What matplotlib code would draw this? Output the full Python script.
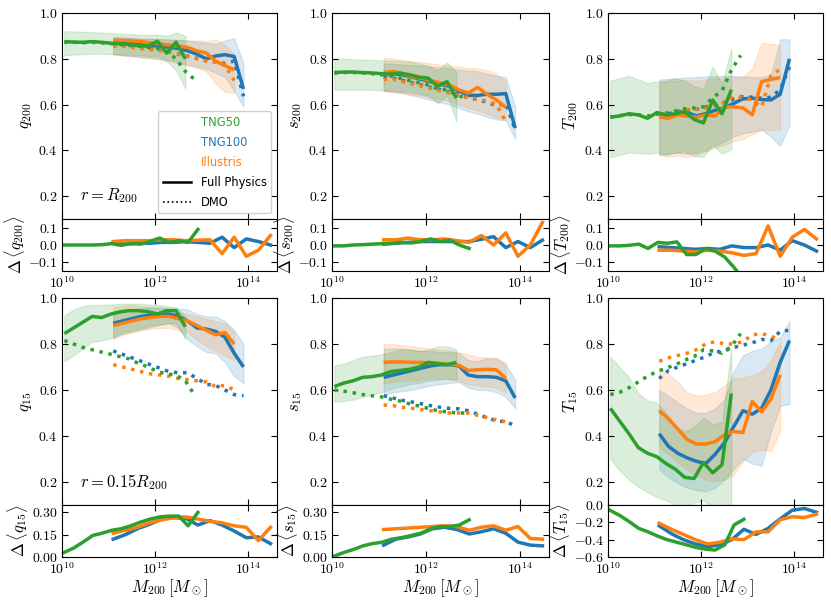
import numpy as np
import matplotlib
matplotlib.use('Agg')
import matplotlib.pyplot as plt
from matplotlib.lines import Line2D
from matplotlib.ticker import FixedLocator, NullLocator, FixedFormatter

plt.rcParams['font.family'] = 'serif'
plt.rcParams['font.serif'] = ['cmr10']
plt.rcParams['mathtext.fontset'] = 'cm'
plt.rcParams['axes.formatter.use_mathtext'] = True

# log10 halo mass grids
logm_tng50 = [10.05, 10.25, 10.45, 10.65, 10.85, 11.05, 11.25, 11.45, 11.65, 11.85, 12.05, 12.25, 12.45, 12.65]
logm_tng50_dmo = logm_tng50 + [12.85]
logm_tng100 = [11.1, 11.3, 11.5, 11.7, 11.9, 12.1, 12.3, 12.5, 12.7, 12.9, 13.1, 13.3, 13.5, 13.7, 13.9]
logm_ill = [11.1, 11.3, 11.5, 11.7, 11.9, 12.1, 12.3, 12.5, 12.7, 12.9, 13.1, 13.3, 13.5, 13.7]
logm_res50 = [10.04, 10.25, 10.45, 10.66, 10.86, 11.07, 11.27, 11.48, 11.69, 11.89, 12.10, 12.30, 12.51, 12.71, 12.92]
logm_res = [11.10, 11.36, 11.62, 11.88, 12.14, 12.40, 12.66, 12.92, 13.18, 13.44, 13.70, 13.96, 14.22, 14.48]

# ---- q200 ----
q200_tng50 = [0.875, 0.873, 0.872, 0.875, 0.872, 0.868, 0.866, 0.862, 0.857, 0.855, 0.877, 0.825, 0.872, 0.800]
q200_tng50_dmo = [0.872, 0.872, 0.870, 0.872, 0.870, 0.866, 0.862, 0.858, 0.855, 0.850, 0.845, 0.830, 0.800, 0.745, 0.710]
q200_tng50_lo = [0.815, 0.818, 0.820, 0.822, 0.822, 0.820, 0.820, 0.818, 0.815, 0.812, 0.810, 0.790, 0.750, 0.670]
q200_tng50_hi = [0.920, 0.920, 0.918, 0.916, 0.915, 0.912, 0.910, 0.908, 0.905, 0.905, 0.905, 0.900, 0.915, 0.900]
q200_tng100 = [0.870, 0.870, 0.866, 0.862, 0.858, 0.855, 0.850, 0.845, 0.835, 0.820, 0.800, 0.812, 0.818, 0.810, 0.668]
q200_tng100_dmo = [0.858, 0.858, 0.853, 0.848, 0.843, 0.838, 0.830, 0.820, 0.812, 0.802, 0.792, 0.786, 0.780, 0.790, 0.636]
q200_tng100_lo = [0.820, 0.815, 0.812, 0.808, 0.805, 0.800, 0.795, 0.785, 0.775, 0.765, 0.755, 0.740, 0.720, 0.660, 0.590]
q200_tng100_hi = [0.895, 0.893, 0.890, 0.888, 0.887, 0.885, 0.885, 0.882, 0.880, 0.875, 0.870, 0.865, 0.880, 0.890, 0.780]
q200_ill = [0.880, 0.880, 0.878, 0.875, 0.870, 0.865, 0.860, 0.855, 0.850, 0.835, 0.825, 0.790, 0.770, 0.752]
q200_ill_dmo = [0.855, 0.855, 0.850, 0.845, 0.840, 0.835, 0.830, 0.820, 0.810, 0.800, 0.790, 0.785, 0.775, 0.705]
q200_ill_lo = [0.820, 0.815, 0.810, 0.805, 0.800, 0.795, 0.790, 0.780, 0.770, 0.760, 0.745, 0.690, 0.655, 0.650]
q200_ill_hi = [0.895, 0.893, 0.890, 0.888, 0.887, 0.885, 0.884, 0.882, 0.880, 0.880, 0.878, 0.885, 0.860, 0.820]
dq200_tng50 = [0.0, 0.0, 0.0, 0.0, 0.002, 0.008, -0.002, 0.008, 0.005, 0.02, 0.04, 0.015, 0.025, 0.015, 0.09]
dq200_tng100 = [0.01, 0.005, 0.01, 0.01, 0.015, 0.015, 0.02, 0.015, 0.01, 0.045, -0.015, 0.035, 0.02, 0.0]
dq200_ill = [0.02, 0.025, 0.025, 0.025, 0.03, 0.03, 0.025, 0.028, 0.03, -0.05, 0.045, -0.065, -0.03, 0.055]

# ---- s200 ----
s200_tng50 = [0.740, 0.742, 0.742, 0.740, 0.738, 0.735, 0.733, 0.738, 0.730, 0.720, 0.715, 0.680, 0.700, 0.628]
s200_tng50_dmo = [0.738, 0.740, 0.740, 0.738, 0.735, 0.730, 0.725, 0.715, 0.705, 0.695, 0.685, 0.668, 0.665, 0.640, 0.630]
s200_tng50_lo = [0.665, 0.665, 0.665, 0.665, 0.664, 0.662, 0.660, 0.658, 0.655, 0.648, 0.640, 0.605, 0.640, 0.525]
s200_tng50_hi = [0.800, 0.800, 0.798, 0.796, 0.795, 0.793, 0.792, 0.790, 0.788, 0.780, 0.770, 0.750, 0.785, 0.740]
s200_tng100 = [0.735, 0.735, 0.730, 0.720, 0.710, 0.700, 0.690, 0.680, 0.660, 0.640, 0.640, 0.645, 0.645, 0.648, 0.497]
s200_tng100_dmo = [0.720, 0.715, 0.705, 0.695, 0.685, 0.675, 0.665, 0.655, 0.645, 0.630, 0.622, 0.610, 0.595, 0.605, 0.490]
s200_tng100_lo = [0.660, 0.655, 0.650, 0.640, 0.630, 0.620, 0.610, 0.600, 0.585, 0.570, 0.560, 0.545, 0.535, 0.530, 0.450]
s200_tng100_hi = [0.780, 0.778, 0.775, 0.772, 0.770, 0.766, 0.762, 0.758, 0.752, 0.748, 0.745, 0.735, 0.725, 0.720, 0.590]
s200_ill = [0.740, 0.745, 0.735, 0.722, 0.715, 0.705, 0.695, 0.685, 0.665, 0.650, 0.675, 0.645, 0.620, 0.588]
s200_ill_dmo = [0.710, 0.710, 0.700, 0.690, 0.680, 0.670, 0.660, 0.650, 0.640, 0.630, 0.625, 0.615, 0.600, 0.525]
s200_ill_lo = [0.660, 0.655, 0.650, 0.645, 0.640, 0.630, 0.625, 0.615, 0.600, 0.585, 0.575, 0.560, 0.545, 0.535]
s200_ill_hi = [0.805, 0.800, 0.795, 0.790, 0.785, 0.780, 0.775, 0.770, 0.765, 0.760, 0.758, 0.750, 0.735, 0.700]
ds200_tng50 = [-0.005, -0.005, 0.0, 0.002, 0.005, 0.008, 0.01, 0.015, 0.012, 0.02, 0.035, 0.02, 0.028, 0.0, -0.02]
ds200_tng100 = [0.005, 0.01, 0.015, 0.02, 0.02, 0.02, 0.02, 0.02, 0.033, 0.048, -0.015, 0.02, -0.015, 0.028]
ds200_ill = [0.03, 0.03, 0.04, 0.03, 0.03, 0.035, 0.025, 0.015, 0.055, 0.0, 0.07, -0.065, 0.0, 0.13]

# ---- T200 ----
T200_tng50 = [0.545, 0.550, 0.560, 0.555, 0.540, 0.565, 0.555, 0.560, 0.570, 0.535, 0.520, 0.620, 0.560, 0.665]
T200_tng50_dmo = [0.545, 0.552, 0.556, 0.555, 0.550, 0.558, 0.562, 0.572, 0.582, 0.585, 0.590, 0.630, 0.660, 0.750, 0.815]
T200_tng50_lo = [0.370, 0.380, 0.390, 0.388, 0.385, 0.390, 0.380, 0.390, 0.395, 0.375, 0.372, 0.425, 0.385, 0.405]
T200_tng50_hi = [0.705, 0.715, 0.725, 0.710, 0.695, 0.700, 0.705, 0.715, 0.705, 0.680, 0.670, 0.765, 0.690, 0.845]
T200_tng100 = [0.555, 0.545, 0.560, 0.565, 0.550, 0.560, 0.575, 0.585, 0.605, 0.625, 0.628, 0.622, 0.620, 0.645, 0.800]
T200_tng100_dmo = [0.560, 0.560, 0.570, 0.575, 0.580, 0.590, 0.600, 0.610, 0.625, 0.635, 0.632, 0.628, 0.632, 0.665, 0.765]
T200_tng100_lo = [0.380, 0.385, 0.390, 0.385, 0.390, 0.400, 0.420, 0.440, 0.460, 0.475, 0.482, 0.490, 0.460, 0.420, 0.510]
T200_tng100_hi = [0.710, 0.712, 0.715, 0.718, 0.720, 0.722, 0.724, 0.725, 0.725, 0.722, 0.720, 0.720, 0.730, 0.885, 0.885]
T200_ill = [0.545, 0.540, 0.555, 0.550, 0.545, 0.555, 0.550, 0.590, 0.590, 0.585, 0.555, 0.700, 0.710, 0.718]
T200_ill_dmo = [0.550, 0.552, 0.565, 0.578, 0.580, 0.585, 0.595, 0.610, 0.635, 0.630, 0.620, 0.590, 0.725, 0.755]
T200_ill_lo = [0.380, 0.372, 0.378, 0.370, 0.380, 0.395, 0.410, 0.425, 0.440, 0.450, 0.470, 0.490, 0.490, 0.490]
T200_ill_hi = [0.700, 0.702, 0.705, 0.708, 0.705, 0.710, 0.715, 0.718, 0.720, 0.720, 0.760, 0.870, 0.865, 0.860]
dT200_tng50 = [-0.005, -0.005, -0.002, 0.005, -0.02, 0.015, 0.01, 0.018, -0.055, -0.055, -0.02, -0.035, -0.07, -0.13, -0.2]
dT200_tng100 = [-0.01, -0.015, -0.02, -0.025, -0.02, -0.025, -0.005, -0.015, -0.015, 0.0, -0.03, 0.025, 0.0, -0.035]
dT200_ill = [-0.03, -0.03, -0.035, -0.04, -0.03, -0.035, -0.045, -0.06, -0.05, 0.11, -0.065, 0.045, 0.09, 0.035]

# ---- q15 ----
q15_tng50 = [0.845, 0.870, 0.895, 0.920, 0.915, 0.930, 0.940, 0.945, 0.945, 0.940, 0.930, 0.945, 0.945, 0.875]
q15_tng50_dmo = [0.815, 0.800, 0.785, 0.775, 0.765, 0.755, 0.745, 0.735, 0.715, 0.700, 0.680, 0.670, 0.665, 0.640, 0.578]
q15_tng50_lo = [0.725, 0.750, 0.780, 0.810, 0.815, 0.825, 0.840, 0.850, 0.860, 0.870, 0.880, 0.890, 0.890, 0.820]
q15_tng50_hi = [0.925, 0.950, 0.965, 0.970, 0.970, 0.972, 0.975, 0.975, 0.975, 0.972, 0.970, 0.965, 0.960, 0.920]
q15_tng100 = [0.890, 0.900, 0.910, 0.920, 0.925, 0.930, 0.930, 0.920, 0.900, 0.870, 0.865, 0.855, 0.830, 0.760, 0.700]
q15_tng100_dmo = [0.770, 0.755, 0.740, 0.725, 0.710, 0.695, 0.680, 0.675, 0.675, 0.650, 0.625, 0.620, 0.600, 0.580, 0.575]
q15_tng100_lo = [0.830, 0.850, 0.860, 0.870, 0.880, 0.885, 0.890, 0.870, 0.820, 0.790, 0.765, 0.760, 0.720, 0.660, 0.630]
q15_tng100_hi = [0.930, 0.940, 0.950, 0.955, 0.960, 0.960, 0.955, 0.955, 0.950, 0.930, 0.920, 0.920, 0.900, 0.860, 0.800]
q15_ill = [0.880, 0.890, 0.900, 0.910, 0.915, 0.920, 0.920, 0.910, 0.900, 0.880, 0.860, 0.840, 0.850, 0.800]
q15_ill_dmo = [0.710, 0.700, 0.690, 0.680, 0.670, 0.665, 0.660, 0.650, 0.645, 0.640, 0.635, 0.615, 0.620, 0.600]
q15_ill_lo = [0.820, 0.840, 0.850, 0.860, 0.865, 0.870, 0.870, 0.860, 0.850, 0.820, 0.790, 0.770, 0.750, 0.730]
q15_ill_hi = [0.960, 0.965, 0.970, 0.965, 0.960, 0.955, 0.950, 0.940, 0.930, 0.920, 0.910, 0.900, 0.890, 0.850]
dq15_tng50 = [0.03, 0.06, 0.10, 0.145, 0.16, 0.18, 0.19, 0.21, 0.235, 0.255, 0.27, 0.275, 0.275, 0.21, 0.30]
dq15_tng100 = [0.12, 0.15, 0.19, 0.22, 0.255, 0.265, 0.26, 0.215, 0.245, 0.215, 0.175, 0.13, 0.135, 0.09]
dq15_ill = [0.16, 0.18, 0.20, 0.23, 0.25, 0.265, 0.27, 0.255, 0.24, 0.23, 0.21, 0.20, 0.11, 0.20]

# ---- s15 ----
s15_tng50 = [0.615, 0.630, 0.640, 0.655, 0.658, 0.665, 0.680, 0.685, 0.690, 0.700, 0.720, 0.715, 0.710, 0.720]
s15_tng50_dmo = [0.600, 0.595, 0.588, 0.580, 0.575, 0.570, 0.560, 0.552, 0.540, 0.530, 0.520, 0.510, 0.505, 0.500, 0.500]
s15_tng50_lo = [0.548, 0.552, 0.558, 0.570, 0.580, 0.590, 0.605, 0.615, 0.625, 0.630, 0.640, 0.645, 0.650, 0.645]
s15_tng50_hi = [0.705, 0.715, 0.730, 0.745, 0.750, 0.755, 0.765, 0.775, 0.775, 0.770, 0.775, 0.790, 0.790, 0.775]
s15_tng100 = [0.655, 0.665, 0.675, 0.685, 0.695, 0.705, 0.710, 0.710, 0.705, 0.665, 0.658, 0.658, 0.655, 0.640, 0.565]
s15_tng100_dmo = [0.575, 0.565, 0.555, 0.548, 0.540, 0.532, 0.525, 0.520, 0.518, 0.510, 0.495, 0.480, 0.465, 0.462, 0.445]
s15_tng100_lo = [0.580, 0.590, 0.595, 0.600, 0.610, 0.620, 0.625, 0.630, 0.635, 0.610, 0.600, 0.600, 0.590, 0.570, 0.520]
s15_tng100_hi = [0.780, 0.780, 0.780, 0.775, 0.770, 0.770, 0.765, 0.765, 0.760, 0.730, 0.725, 0.740, 0.735, 0.710, 0.645]
s15_ill = [0.720, 0.722, 0.722, 0.720, 0.720, 0.718, 0.715, 0.712, 0.708, 0.685, 0.688, 0.690, 0.688, 0.650]
s15_ill_dmo = [0.535, 0.532, 0.525, 0.520, 0.515, 0.510, 0.505, 0.500, 0.500, 0.500, 0.490, 0.480, 0.470, 0.462]
s15_ill_lo = [0.630, 0.635, 0.640, 0.640, 0.645, 0.650, 0.650, 0.645, 0.640, 0.625, 0.620, 0.615, 0.610, 0.590]
s15_ill_hi = [0.800, 0.800, 0.795, 0.790, 0.785, 0.780, 0.775, 0.770, 0.765, 0.755, 0.745, 0.740, 0.740, 0.720]
ds15_tng50 = [0.005, 0.03, 0.05, 0.075, 0.09, 0.10, 0.12, 0.13, 0.145, 0.16, 0.19, 0.205, 0.205, 0.215, 0.25]
ds15_tng100 = [0.08, 0.12, 0.135, 0.155, 0.19, 0.20, 0.185, 0.155, 0.17, 0.19, 0.16, 0.10, 0.08, 0.075]
ds15_ill = [0.185, 0.19, 0.195, 0.20, 0.205, 0.21, 0.205, 0.18, 0.20, 0.21, 0.18, 0.205, 0.125, 0.12]

# ---- T15 ----
T15_tng50 = [0.520, 0.465, 0.410, 0.350, 0.325, 0.310, 0.280, 0.255, 0.220, 0.215, 0.285, 0.240, 0.275, 0.585]
T15_tng50_dmo = [0.580, 0.590, 0.610, 0.635, 0.660, 0.680, 0.695, 0.710, 0.730, 0.745, 0.775, 0.770, 0.760, 0.790, 0.845]
T15_tng50_lo = [0.300, 0.250, 0.210, 0.180, 0.155, 0.135, 0.120, 0.100, 0.095, 0.110, 0.120, 0.085, 0.060, 0.080]
T15_tng50_hi = [0.745, 0.700, 0.655, 0.585, 0.555, 0.545, 0.500, 0.440, 0.420, 0.440, 0.480, 0.450, 0.460, 0.780]
T15_tng100 = [0.410, 0.355, 0.325, 0.305, 0.290, 0.280, 0.320, 0.370, 0.440, 0.510, 0.495, 0.520, 0.600, 0.720, 0.815]
T15_tng100_dmo = [0.650, 0.685, 0.700, 0.715, 0.730, 0.745, 0.765, 0.770, 0.785, 0.795, 0.805, 0.820, 0.815, 0.855, 0.860]
T15_tng100_lo = [0.255, 0.220, 0.195, 0.175, 0.165, 0.160, 0.175, 0.210, 0.255, 0.300, 0.280, 0.270, 0.420, 0.530, 0.540]
T15_tng100_hi = [0.600, 0.575, 0.545, 0.520, 0.500, 0.500, 0.520, 0.560, 0.680, 0.750, 0.770, 0.780, 0.810, 0.830, 0.900]
T15_ill = [0.510, 0.475, 0.430, 0.385, 0.365, 0.365, 0.375, 0.405, 0.420, 0.415, 0.550, 0.505, 0.560, 0.665]
T15_ill_dmo = [0.725, 0.740, 0.750, 0.760, 0.775, 0.800, 0.810, 0.800, 0.800, 0.810, 0.840, 0.845, 0.835, 0.815]
T15_ill_lo = [0.350, 0.320, 0.285, 0.255, 0.230, 0.210, 0.205, 0.210, 0.230, 0.290, 0.330, 0.340, 0.335, 0.420]
T15_ill_hi = [0.690, 0.670, 0.635, 0.590, 0.575, 0.580, 0.590, 0.620, 0.650, 0.655, 0.665, 0.680, 0.730, 0.810]
dT15_tng50 = [-0.06, -0.12, -0.19, -0.27, -0.31, -0.36, -0.40, -0.43, -0.46, -0.49, -0.51, -0.52, -0.46, -0.23, -0.165]
dT15_tng100 = [-0.24, -0.33, -0.40, -0.45, -0.48, -0.46, -0.40, -0.28, -0.34, -0.27, -0.16, -0.06, -0.04, -0.085]
dT15_ill = [-0.21, -0.28, -0.34, -0.40, -0.45, -0.43, -0.39, -0.40, -0.31, -0.31, -0.17, -0.135, -0.145, -0.105]

c50 = '#2ca02c'
c100 = '#1f77b4'
cill = '#ff7f0e'

W, H = 831, 601
fig = plt.figure(figsize=(W / 100, H / 100), dpi=100)

def rect(x0, x1, y0, y1):
    return [x0 / W, 1 - y1 / H, (x1 - x0) / W, (y1 - y0) / H]

cols = [(62, 277), (332, 549), (608, 823)]
rows = [((13, 219), (219, 271)), ((298, 505), (505, 557))]

panels = [
    # (row, col, ylabel, dlabel, data...)
    (0, 0, r'$q_{200}$', r'$\Delta\,\langle q_{200}\rangle$',
     (q200_tng50, q200_tng50_dmo, q200_tng50_lo, q200_tng50_hi, dq200_tng50),
     (q200_tng100, q200_tng100_dmo, q200_tng100_lo, q200_tng100_hi, dq200_tng100),
     (q200_ill, q200_ill_dmo, q200_ill_lo, q200_ill_hi, dq200_ill)),
    (0, 1, r'$s_{200}$', r'$\Delta\,\langle s_{200}\rangle$',
     (s200_tng50, s200_tng50_dmo, s200_tng50_lo, s200_tng50_hi, ds200_tng50),
     (s200_tng100, s200_tng100_dmo, s200_tng100_lo, s200_tng100_hi, ds200_tng100),
     (s200_ill, s200_ill_dmo, s200_ill_lo, s200_ill_hi, ds200_ill)),
    (0, 2, r'$T_{200}$', r'$\Delta\,\langle T_{200}\rangle$',
     (T200_tng50, T200_tng50_dmo, T200_tng50_lo, T200_tng50_hi, dT200_tng50),
     (T200_tng100, T200_tng100_dmo, T200_tng100_lo, T200_tng100_hi, dT200_tng100),
     (T200_ill, T200_ill_dmo, T200_ill_lo, T200_ill_hi, dT200_ill)),
    (1, 0, r'$q_{15}$', r'$\Delta\,\langle q_{15}\rangle$',
     (q15_tng50, q15_tng50_dmo, q15_tng50_lo, q15_tng50_hi, dq15_tng50),
     (q15_tng100, q15_tng100_dmo, q15_tng100_lo, q15_tng100_hi, dq15_tng100),
     (q15_ill, q15_ill_dmo, q15_ill_lo, q15_ill_hi, dq15_ill)),
    (1, 1, r'$s_{15}$', r'$\Delta\,\langle s_{15}\rangle$',
     (s15_tng50, s15_tng50_dmo, s15_tng50_lo, s15_tng50_hi, ds15_tng50),
     (s15_tng100, s15_tng100_dmo, s15_tng100_lo, s15_tng100_hi, ds15_tng100),
     (s15_ill, s15_ill_dmo, s15_ill_lo, s15_ill_hi, ds15_ill)),
    (1, 2, r'$T_{15}$', r'$\Delta\,\langle T_{15}\rangle$',
     (T15_tng50, T15_tng50_dmo, T15_tng50_lo, T15_tng50_hi, dT15_tng50),
     (T15_tng100, T15_tng100_dmo, T15_tng100_lo, T15_tng100_hi, dT15_tng100),
     (T15_ill, T15_ill_dmo, T15_ill_lo, T15_ill_hi, dT15_ill)),
]

xmin, xmax = 1e10, 10 ** 14.62
xt = [1e10, 1e12, 1e14]
lw = 2.5

def style(ax):
    ax.set_xscale('log')
    ax.set_xlim(xmin, xmax)
    ax.xaxis.set_major_locator(FixedLocator(xt))
    ax.xaxis.set_minor_locator(NullLocator())
    ax.tick_params(which='both', direction='in', top=True, right=True,
                   length=4.5, width=0.8, labelsize=10, pad=3)

main_axes = []
for row, col, ylab, dlab, d50, d100, dill in panels:
    (my0, my1), (ry0, ry1) = rows[row]
    x0, x1 = cols[col]
    ax = fig.add_axes(rect(x0, x1, my0, my1))
    axr = fig.add_axes(rect(x0, x1, ry0, ry1))
    main_axes.append(ax)

    series = [(logm_tng100, logm_tng100, logm_res, d100, c100),
              (logm_ill, logm_ill, logm_res, dill, cill),
              (logm_tng50, logm_tng50_dmo, logm_res50, d50, c50)]
    for xfp, xdmo, xres, (fp, dmo, lo, hi, dd), c in series:
        mfp = 10 ** np.array(xfp)
        ax.fill_between(mfp, lo, hi, color=c, alpha=0.17, lw=0.8)
    for xfp, xdmo, xres, (fp, dmo, lo, hi, dd), c in series:
        ax.plot(10 ** np.array(xfp), fp, color=c, lw=lw, solid_capstyle='butt')
        ax.plot(10 ** np.array(xdmo), dmo, color=c, lw=lw, ls=':')
        axr.plot(10 ** np.array(xres), dd, color=c, lw=lw)

    style(ax)
    style(axr)
    ax.set_xticklabels([])
    ax.set_ylim(0.1, 1.0)
    ax.yaxis.set_major_locator(FixedLocator([0.2, 0.4, 0.6, 0.8, 1.0]))
    ax.yaxis.set_major_formatter(FixedFormatter([r'$0.2$', r'$0.4$', r'$0.6$', r'$0.8$', r'$1.0$']))
    ax.set_ylabel(ylab, fontsize=12, labelpad=3)

    if row == 0:
        axr.set_ylim(-0.15, 0.15)
        axr.yaxis.set_major_locator(FixedLocator([-0.1, 0.0, 0.1]))
        axr.yaxis.set_major_formatter(FixedFormatter([r'$-0.1$', r'$0.0$', r'$0.1$']))
    elif col < 2:
        axr.set_ylim(0.0, 0.35)
        axr.yaxis.set_major_locator(FixedLocator([0.0, 0.15, 0.30]))
        axr.yaxis.set_major_formatter(FixedFormatter([r'$0.00$', r'$0.15$', r'$0.30$']))
    else:
        axr.set_ylim(-0.6, 0.0)
        axr.yaxis.set_major_locator(FixedLocator([-0.6, -0.4, -0.2, 0.0]))
        axr.yaxis.set_major_formatter(FixedFormatter([r'$-0.6$', r'$-0.4$', r'$-0.2$', r'$0.0$']))
    axr.set_ylabel(dlab, fontsize=12, labelpad=1)
    if row == 1:
        axr.set_xlabel(r'$M_{200}\,[M_\odot]$', fontsize=12, labelpad=0)

main_axes[0].text(0.085, 0.115, r'$r = R_{200}$', transform=main_axes[0].transAxes,
                  fontsize=12, va='center')
main_axes[3].text(0.085, 0.11, r'$r = 0.15R_{200}$', transform=main_axes[3].transAxes,
                  fontsize=12, va='center')

handles = [Line2D([], [], color='none', label='TNG50'),
           Line2D([], [], color='none', label='TNG100'),
           Line2D([], [], color='none', label='Illustris'),
           Line2D([], [], color='k', lw=1.8, label='Full Physics'),
           Line2D([], [], color='k', lw=1.2, ls=':', label='DMO')]
main_axes[0].legend(handles=handles, loc='lower right', prop={'family': 'DejaVu Sans', 'size': 8.3},
                    labelcolor=[c50, c100, cill, 'k', 'k'], handlelength=2.5,
                    handletextpad=0.8, labelspacing=0.6, framealpha=0.9, borderaxespad=0.5)

fig.savefig('out.png', dpi=100)
